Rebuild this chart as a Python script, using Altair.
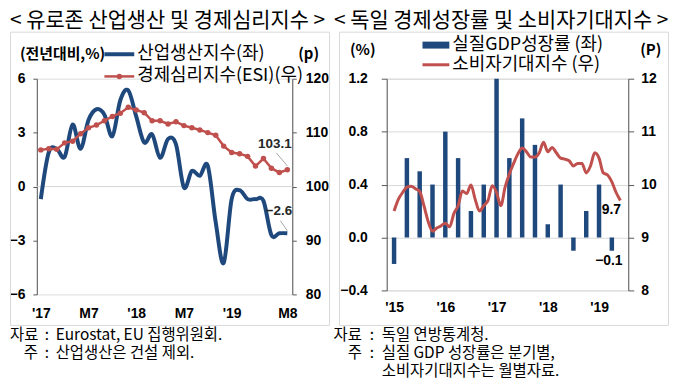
import altair as alt
import pandas as pd
import json

# ---------------- data ----------------
# Left panel: Eurozone, Jan 2017 .. Aug 2019 (month index 0..31)
ez_months = list(range(32))
ez_ip = [-0.7, 1.9, 2.1, 1.65, 3.45, 2.1, 3.7, 4.3, 4.0, 2.8, 4.8, 5.35,
         3.9, 2.45, 2.9, 1.6, 2.65, 2.35, -0.05, 0.87, 0.6, 1.15, -2.0, -4.25,
         -0.7, -0.2, -0.7, -0.7, -0.8, -2.7, -2.6, -2.6]
ez_esi = [106.8, 107.0, 106.9, 108.1, 108.4, 109.8, 110.9, 111.4, 112.2, 113.0, 113.6, 114.7,
          114.2, 113.7, 112.2, 112.2, 111.6, 112.0, 111.3, 110.9, 110.5, 110.0, 109.5, 107.5,
          106.3, 106.1, 105.6, 103.8, 105.2, 103.4, 102.6, 103.1]
ez_tick_pos = [0, 6, 12, 18, 24, 31]
ez_tick_lab = ["'17", "M7", "'18", "M7", "'19", "M8"]
ez_left_ticks = [-6, -3, 0, 3, 6]
ez_right_ticks = [80, 90, 100, 110, 120]

# Right panel: Germany, quarterly GDP (Q1 2015 .. Q2 2019), monthly consumer climate
de_quarters = list(range(18))
de_gdp = [-0.2, 0.6, 0.5, 0.4, 0.8, 0.6, 0.2, 0.4, 1.2, 0.6, 0.9, 0.7,
          0.1, 0.4, -0.1, 0.2, 0.4, -0.1]
de_months = list(range(54))
de_cci = [9.5, 9.72, 9.85, 9.95, 9.97, 9.92, 9.87, 9.6, 9.3, 9.12, 9.18, 9.22,
          9.27, 9.2, 9.45, 9.6, 9.88, 9.83, 9.99, 9.72, 9.5, 9.6, 9.7, 9.98,
          9.85, 9.6, 9.95, 10.2, 10.4, 10.58, 10.69, 10.62, 10.52, 10.52, 10.6, 10.8,
          10.62, 10.7, 10.6, 10.5, 10.48, 10.45, 10.35, 10.4, 10.4, 10.22, 10.35, 10.6,
          10.5, 10.22, 10.18, 10.05, 9.85, 9.7]
de_tick_pos = [0, 12, 24, 36, 48]
de_tick_lab = ["'15", "'16", "'17", "'18", "'19"]
de_left_ticks = [-0.4, 0.0, 0.4, 0.8, 1.2]
de_right_ticks = [8, 9, 10, 11, 12]

# ---------------- style ----------------
FONT = "Noto Sans CJK KR"
NUM = "Liberation Sans"
BLUE = "#1F497D"
RED = "#C0504D"
AXC = "#595959"
GRID = "#D9D9D9"

W1, H1 = 257, 217
W2, H2 = 243, 213
SPACING = 95

one = pd.DataFrame({"k": [0]})


def T(s, x, y, size=14, weight="normal", align="left", color="black", font=FONT):
    return alt.Chart(one).mark_text(align=align, baseline="middle", fontSize=size,
                                    fontWeight=weight, font=font, color=color).encode(
        x=alt.value(x), y=alt.value(y), text=alt.value(s))


def R(x1, x2, y1, y2, color, w):
    return alt.Chart(one).mark_rule(color=color, strokeWidth=w).encode(
        x=alt.value(x1), x2=alt.value(x2), y=alt.value(y1), y2=alt.value(y2))


def frame(x1, x2, y1, y2):
    return alt.Chart(one).mark_rect(fillOpacity=0, stroke=GRID, strokeWidth=1).encode(
        x=alt.value(x1), x2=alt.value(x2), y=alt.value(y1), y2=alt.value(y2))


LBL = dict(labelFont=NUM, labelFontSize=14, labelFontWeight="bold",
           labelColor="black", labelFlush=False)


def label_expr(pos, lab):
    return "%s[indexof(%s, datum.value)]" % (json.dumps(lab), json.dumps(pos))


# ---------------- left panel ----------------
df1 = pd.DataFrame({"m": ez_months, "ip": ez_ip, "esi": ez_esi})
base1 = alt.Chart(df1)

X1 = alt.X("m:Q", scale=alt.Scale(domain=[-0.5, 31.625], nice=False, zero=False),
           axis=alt.Axis(values=ez_tick_pos, labelExpr=label_expr(ez_tick_pos, ez_tick_lab),
                         title=None, domain=False, ticks=False, tickSize=0, grid=False,
                         labelPadding=12, labelAngle=0, **LBL))
ax1L = alt.Axis(orient="left", values=ez_left_ticks, title=None, grid=False,
                domainColor=AXC, tickColor=AXC, tickSize=4, labelPadding=8, **LBL)
ax1R = alt.Axis(orient="right", values=ez_right_ticks, title=None, grid=False,
                domainColor=AXC, tickColor=AXC, tickSize=4, labelPadding=9, **LBL)
Y1L = alt.Y("ip:Q", scale=alt.Scale(domain=[-6, 6], nice=False), axis=ax1L)
Y1R = alt.Y("esi:Q", scale=alt.Scale(domain=[80, 120], nice=False, zero=False), axis=ax1R)

zero1 = alt.Chart(one).mark_rule(color=GRID, strokeWidth=1).encode(
    y=alt.Y(datum=0, type="quantitative", scale=alt.Scale(domain=[-6, 6], nice=False), axis=ax1L),
    x=alt.value(0), x2=alt.value(W1))
ip_line = base1.mark_line(color=BLUE, strokeWidth=4, interpolate="cardinal").encode(x=X1, y=Y1L)
last1 = base1.transform_filter(alt.datum.m == 31)
ip_lab = last1.mark_text(font=NUM, fontSize=13.5, fontWeight="bold", color="#262626",
                         dx=-8.5, dy=-22.6).encode(x=X1, y=Y1L, text=alt.Text("ip:Q", format=".1f"))
ip_lead = last1.mark_rule(color="#A6A6A6", strokeWidth=1, xOffset=-7, yOffset=-12.6,
                          x2Offset=0, y2Offset=-2.6).encode(x=X1, x2=alt.X2("m"), y=Y1L, y2=alt.Y2("ip"))
left_group = alt.layer(zero1, ip_line, ip_lab, ip_lead)

esi_line = base1.mark_line(color=RED, strokeWidth=2.5,
                           point=alt.OverlayMarkDef(filled=True, size=30, color=RED)).encode(x=X1, y=Y1R)
esi_lab = last1.mark_text(font=NUM, fontSize=13.5, fontWeight="bold", color="#262626",
                          dx=-12.5, dy=-26).encode(x=X1, y=Y1R, text=alt.Text("esi:Q", format=".1f"))
esi_lead = last1.mark_rule(color="#A6A6A6", strokeWidth=1, xOffset=-11, yOffset=-17,
                           x2Offset=0, y2Offset=-4).encode(x=X1, x2=alt.X2("m"), y=Y1R, y2=alt.Y2("esi"))
right_group = alt.layer(esi_line, esi_lab, esi_lead)

# origin of panel 1 plot in page coords: (35, 77.3)
bounds = alt.Chart(one).mark_rect(opacity=0).encode(
    x=alt.value(-27), x2=alt.value(635), y=alt.value(-69.3), y2=alt.value(301.7))

deco1 = [
    bounds,
    frame(-26.5, 294.5, -46.8, 248.2),
    T("< 유로존 산업생산 및 경제심리지수 >", -27, -58.0, size=21),
    T("(전년대비,%)", -17, -24.6, size=15, weight="bold"),
    T("(p)", 263, -24.6, size=15, weight="bold"),
    R(68, 98, -24.6, -24.6, BLUE, 4),
    T("산업생산지수(좌)", 101, -24.6, size=18),
    R(68, 98, -2.3, -2.3, RED, 2.5),
    alt.Chart(one).mark_point(filled=True, size=30, color=RED, opacity=1).encode(
        x=alt.value(83), y=alt.value(-2.3)),
    T("경제심리지수(ESI)(우)", 101, -2.3, size=18),
    T("자료", -27, 257.7, size=15.5),
    T(":", 10, 257.7, size=15.5, align="center"),
    T("Eurostat, EU 집행위원회.", 19, 257.7, size=15.5),
    T("주", 1, 275.7, size=15.5, align="right"),
    T(":", 10, 275.7, size=15.5, align="center"),
    T("산업생산은 건설 제외.", 19, 275.7, size=15.5),
]

panel1 = alt.layer(*deco1, left_group, right_group).resolve_scale(y="independent").properties(
    width=W1, height=H1)

# ---------------- right panel ----------------
df2b = pd.DataFrame({"m": [3 * q for q in de_quarters], "gdp": de_gdp})
df2l = pd.DataFrame({"m": de_months, "cci": de_cci})

X2 = alt.X("m:Q", scale=alt.Scale(domain=[-0.56, 53.68], nice=False, zero=False),
           axis=alt.Axis(values=de_tick_pos, labelExpr=label_expr(de_tick_pos, de_tick_lab),
                         title=None, domain=False, ticks=False, tickSize=0, grid=False,
                         labelPadding=10, labelAngle=0, **LBL))
ax2L = alt.Axis(orient="left", values=de_left_ticks, format=".1f", title=None, grid=True,
                gridColor=GRID, gridWidth=1, domainColor=AXC, tickColor=AXC, tickSize=5.5,
                labelPadding=14, **LBL)
ax2R = alt.Axis(orient="right", values=de_right_ticks, format="d", title=None, grid=False,
                domainColor=AXC, tickColor=AXC, tickSize=5.5, labelPadding=7, **LBL)
Y2L = alt.Y("gdp:Q", scale=alt.Scale(domain=[-0.4, 1.2], nice=False), axis=ax2L)
Y2R = alt.Y("cci:Q", scale=alt.Scale(domain=[8, 12], nice=False, zero=False), axis=ax2R)

bars = alt.Chart(df2b).mark_bar(color=BLUE, size=4.5, orient="vertical").encode(
    x=X2, y=Y2L, y2=alt.datum(0))
gdp_lab = alt.Chart(df2b).transform_filter(alt.datum.m == 51).mark_text(
    font=NUM, fontSize=14, fontWeight="bold", color="black", dx=-3, dy=10).encode(
    x=X2, y=Y2L, text=alt.Text("gdp:Q", format=".1f"))
bar_group = alt.layer(bars, gdp_lab)

cci_line = alt.Chart(df2l).mark_line(color=RED, strokeWidth=3, interpolate="monotone").encode(x=X2, y=Y2R)
cci_lab = alt.Chart(df2l).transform_filter(alt.datum.m == 53).mark_text(
    font=NUM, fontSize=14, fontWeight="bold", color="black", dx=-9, dy=10).encode(
    x=X2, y=Y2R, text=alt.Text("cci:Q", format=".1f"))
cci_group = alt.layer(cci_line, cci_lab)

# origin of panel 2 plot in page coords: (387, 77.3)
deco2 = [
    frame(-47.5, 283.5, -46.8, 248.2),
    T("< 독일 경제성장률 및 소비자기대지수 >", -53, -58.0, size=21),
    T("(%)", -37, -29.3, size=15, weight="bold"),
    T("(P)", 255, -29.3, size=15, weight="bold"),
    alt.Chart(one).mark_rect(color=BLUE).encode(
        x=alt.value(36), x2=alt.value(63), y=alt.value(-37.3), y2=alt.value(-30.3)),
    T("실질GDP성장률 (좌)", 66, -34, size=18),
    R(36, 63, -14, -14, RED, 3),
    T("소비자기대지수 (우)", 66, -14, size=18),
    T("자료", -25, 257.7, size=15.5, align="right"),
    T(":", -15, 257.7, size=15.5, align="center"),
    T("독일 연방통계청.", -5, 257.7, size=15.5),
    T("주", -25, 275.7, size=15.5, align="right"),
    T(":", -15, 275.7, size=15.5, align="center"),
    T("실질 GDP 성장률은 분기별,", -5, 275.7, size=15.5),
    T("소비자기대지수는 월별자료.", -5, 293.7, size=15.5),
]

panel2 = alt.layer(*deco2, bar_group, cci_group).resolve_scale(y="independent").properties(
    width=W2, height=H2)

chart = alt.hconcat(panel1, panel2, spacing=SPACING, bounds="flush").properties(
    padding=0, background="white").configure_view(stroke=None).configure(font=FONT)

chart.save("out.html", embed_options={"renderer": "svg", "actions": False})
